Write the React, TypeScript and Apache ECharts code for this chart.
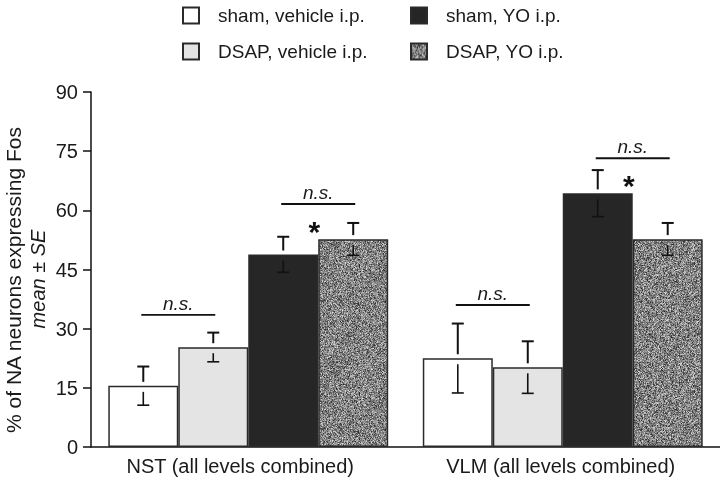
import React, { useEffect, useRef } from 'react';
import * as echarts from 'echarts';

const categories = ['NST (all levels combined)', 'VLM (all levels combined)'];
const seriesNames = ['sham, vehicle i.p.', 'DSAP, vehicle i.p.', 'sham, YO i.p.', 'DSAP, YO i.p.'];
const shamVehicle = [15.5, 22.5];
const dsapVehicle = [25.3, 20.2];
const shamYO = [48.8, 64.3];
const dsapYO = [52.7, 52.7];
const shamVehicleSE = [4.9, 8.8];
const dsapVehicleSE = [3.7, 6.6];
const shamYOSE = [4.5, 5.9];
const dsapYOSE = [4.1, 4.1];
const yMin = 0;
const yMax = 90;
const yInterval = 15;
// [category index, first bar of the compared pair, bracket height]
const nsBrackets = [
  [0, 0, 33.5],
  [0, 2, 61.6],
  [1, 0, 36.0],
  [1, 2, 73.2],
];
// [category index, height]
const asterisks = [
  [0, 56.3],
  [1, 68.0],
];

const FONT = '"Liberation Sans", Arial, Helvetica, sans-serif';
const GAP_RATIO = 0.11;

function hash(x: number, y: number): number {
  let h = (x * 374761393 + y * 668265263) | 0;
  h = Math.imul(h ^ (h >>> 13), 1274126177);
  h = h ^ (h >>> 16);
  return ((h >>> 0) % 10000) / 10000;
}

function makeNoise(): HTMLCanvasElement {
  const c = document.createElement('canvas');
  const n = 128;
  c.width = n;
  c.height = n;
  const ctx = c.getContext('2d')!;
  const img = ctx.createImageData(n, n);
  for (let y = 0; y < n; y++) {
    for (let x = 0; x < n; x++) {
      const r = (hash(x, y) + hash(x + 1000, y + 7)) / 2;
      const v = Math.round(30 + r * 200);
      const i = (y * n + x) * 4;
      img.data[i] = v;
      img.data[i + 1] = v;
      img.data[i + 2] = v;
      img.data[i + 3] = 255;
    }
  }
  ctx.putImageData(img, 0, 0);
  return c;
}

export default function App() {
  const ref = useRef<HTMLDivElement>(null);
  useEffect(() => {
    if (!ref.current) return;
    const chart = echarts.init(ref.current, undefined, { renderer: 'svg' });
    const noise = makeNoise();
    const values = [shamVehicle, dsapVehicle, shamYO, dsapYO];
    const errs = [shamVehicleSE, dsapVehicleSE, shamYOSE, dsapYOSE];
    const colors: any[] = ['#ffffff', '#e4e4e4', '#262626', { image: noise, repeat: 'repeat' }];

    const barSeries = seriesNames.map((name, i) => ({
      name,
      type: 'bar',
      data: values[i],
      barGap: '0%',
      barCategoryGap: GAP_RATIO * 100 + '%',
      itemStyle: { color: colors[i], borderColor: '#2a2a2a', borderWidth: 1.5 },
      emphasis: { disabled: true },
      z: 2,
    }));

    const errData: number[][] = [];
    values.forEach((vals, bi) => {
      vals.forEach((v, ci) => errData.push([ci, v, errs[bi][ci], bi]));
    });

    const lineStyle = { stroke: '#111', lineWidth: 2 };
    const legendText = { fontSize: 19, color: '#1a1a1a', fontFamily: FONT, padding: [0, 0, 0, 14] };

    const option: any = {
      animation: false,
      textStyle: { fontFamily: FONT },
      grid: { left: 91, top: 92, width: 629, height: 355, containLabel: false },
      legend: [
        {
          data: ['sham, vehicle i.p.', 'DSAP, vehicle i.p.'],
          orient: 'vertical',
          left: 177,
          top: 1,
          itemWidth: 16,
          itemHeight: 16,
          itemGap: 17,
          icon: 'rect',
          selectedMode: false,
          textStyle: legendText,
        },
        {
          data: ['sham, YO i.p.', 'DSAP, YO i.p.'],
          orient: 'vertical',
          left: 405,
          top: 1,
          itemWidth: 16,
          itemHeight: 16,
          itemGap: 17,
          icon: 'rect',
          selectedMode: false,
          textStyle: legendText,
        },
      ],
      xAxis: {
        type: 'category',
        data: [
          { value: categories[0], textStyle: { padding: [0, 16, 0, 0] } },
          { value: categories[1], textStyle: { padding: [0, 4, 0, 0] } },
        ],
        axisLine: { lineStyle: { color: '#111', width: 1.5 } },
        axisTick: { show: false },
        axisLabel: { fontSize: 20, color: '#1a1a1a', margin: 9, fontFamily: FONT },
      },
      yAxis: {
        type: 'value',
        min: yMin,
        max: yMax,
        interval: yInterval,
        splitLine: { show: false },
        axisLine: { show: true, lineStyle: { color: '#111', width: 1.5 } },
        axisTick: { show: true, length: 8, lineStyle: { color: '#111', width: 1.5 } },
        axisLabel: { fontSize: 20, color: '#1a1a1a', margin: 13, fontFamily: FONT },
      },
      graphic: [
        {
          type: 'text',
          x: 13,
          y: 280,
          rotation: Math.PI / 2,
          style: {
            text: '% of NA neurons expressing Fos',
            font: '21px ' + FONT,
            fill: '#1a1a1a',
            textAlign: 'center',
            textVerticalAlign: 'middle',
          },
        },
        {
          type: 'text',
          x: 38,
          y: 279,
          rotation: Math.PI / 2,
          style: {
            text: 'mean ± SE',
            font: 'italic 20px ' + FONT,
            fill: '#1a1a1a',
            textAlign: 'center',
            textVerticalAlign: 'middle',
          },
        },
      ],
      series: [
        ...barSeries,
        {
          type: 'custom',
          name: 'err',
          z: 10,
          silent: true,
          data: errData,
          renderItem: (params: any, api: any) => {
            const cat = api.value(0);
            const mean = api.value(1);
            const se = api.value(2);
            const bi = api.value(3);
            const band = api.size([1, 0])[0];
            const bw = (band * (1 - GAP_RATIO)) / 4;
            const c = api.coord([cat, mean]);
            const x = c[0] + (bi - 1.5) * bw;
            const y0 = c[1];
            const yTop = api.coord([cat, mean + se])[1];
            const yBot = api.coord([cat, mean - se])[1];
            const hw = 6;
            return {
              type: 'group',
              children: [
                { type: 'line', shape: { x1: x, y1: yTop, x2: x, y2: y0 - 4 }, style: lineStyle },
                { type: 'line', shape: { x1: x - hw, y1: yTop, x2: x + hw, y2: yTop }, style: lineStyle },
                { type: 'line', shape: { x1: x, y1: y0 + 6, x2: x, y2: yBot }, style: { stroke: '#111', lineWidth: 1.6 } },
                { type: 'line', shape: { x1: x - hw, y1: yBot, x2: x + hw, y2: yBot }, style: { stroke: '#111', lineWidth: 1.6 } },
              ],
            };
          },
        },
        {
          type: 'custom',
          name: 'ns',
          z: 10,
          silent: true,
          data: nsBrackets,
          renderItem: (params: any, api: any) => {
            const cat = api.value(0);
            const first = api.value(1);
            const h = api.value(2);
            const band = api.size([1, 0])[0];
            const bw = (band * (1 - GAP_RATIO)) / 4;
            const c = api.coord([cat, h]);
            const x1 = c[0] + (first - 1.5) * bw - 2;
            const x2 = c[0] + (first + 1 - 1.5) * bw + 2;
            return {
              type: 'group',
              children: [
                { type: 'line', shape: { x1, y1: c[1], x2, y2: c[1] }, style: { stroke: '#111', lineWidth: 1.8 } },
                {
                  type: 'text',
                  x: (x1 + x2) / 2,
                  y: c[1] - 2,
                  style: {
                    text: 'n.s.',
                    font: 'italic 19px ' + FONT,
                    fill: '#1a1a1a',
                    textAlign: 'center',
                    textVerticalAlign: 'bottom',
                  },
                },
              ],
            };
          },
        },
        {
          type: 'custom',
          name: 'star',
          z: 10,
          silent: true,
          data: asterisks,
          renderItem: (params: any, api: any) => {
            const cat = api.value(0);
            const h = api.value(1);
            const band = api.size([1, 0])[0];
            const bw = (band * (1 - GAP_RATIO)) / 4;
            const c = api.coord([cat, h]);
            return {
              type: 'text',
              x: c[0] + bw - 4,
              y: c[1] + 7,
              style: {
                text: '*',
                font: 'bold 30px ' + FONT,
                fill: '#111',
                textAlign: 'center',
                textVerticalAlign: 'middle',
              },
            };
          },
        },
      ],
    };
    chart.setOption(option);
    return () => chart.dispose();
  }, []);
  return <div ref={ref} style={{ position: 'fixed', left: 0, top: 0, width: 720, height: 477 }} />;
}
